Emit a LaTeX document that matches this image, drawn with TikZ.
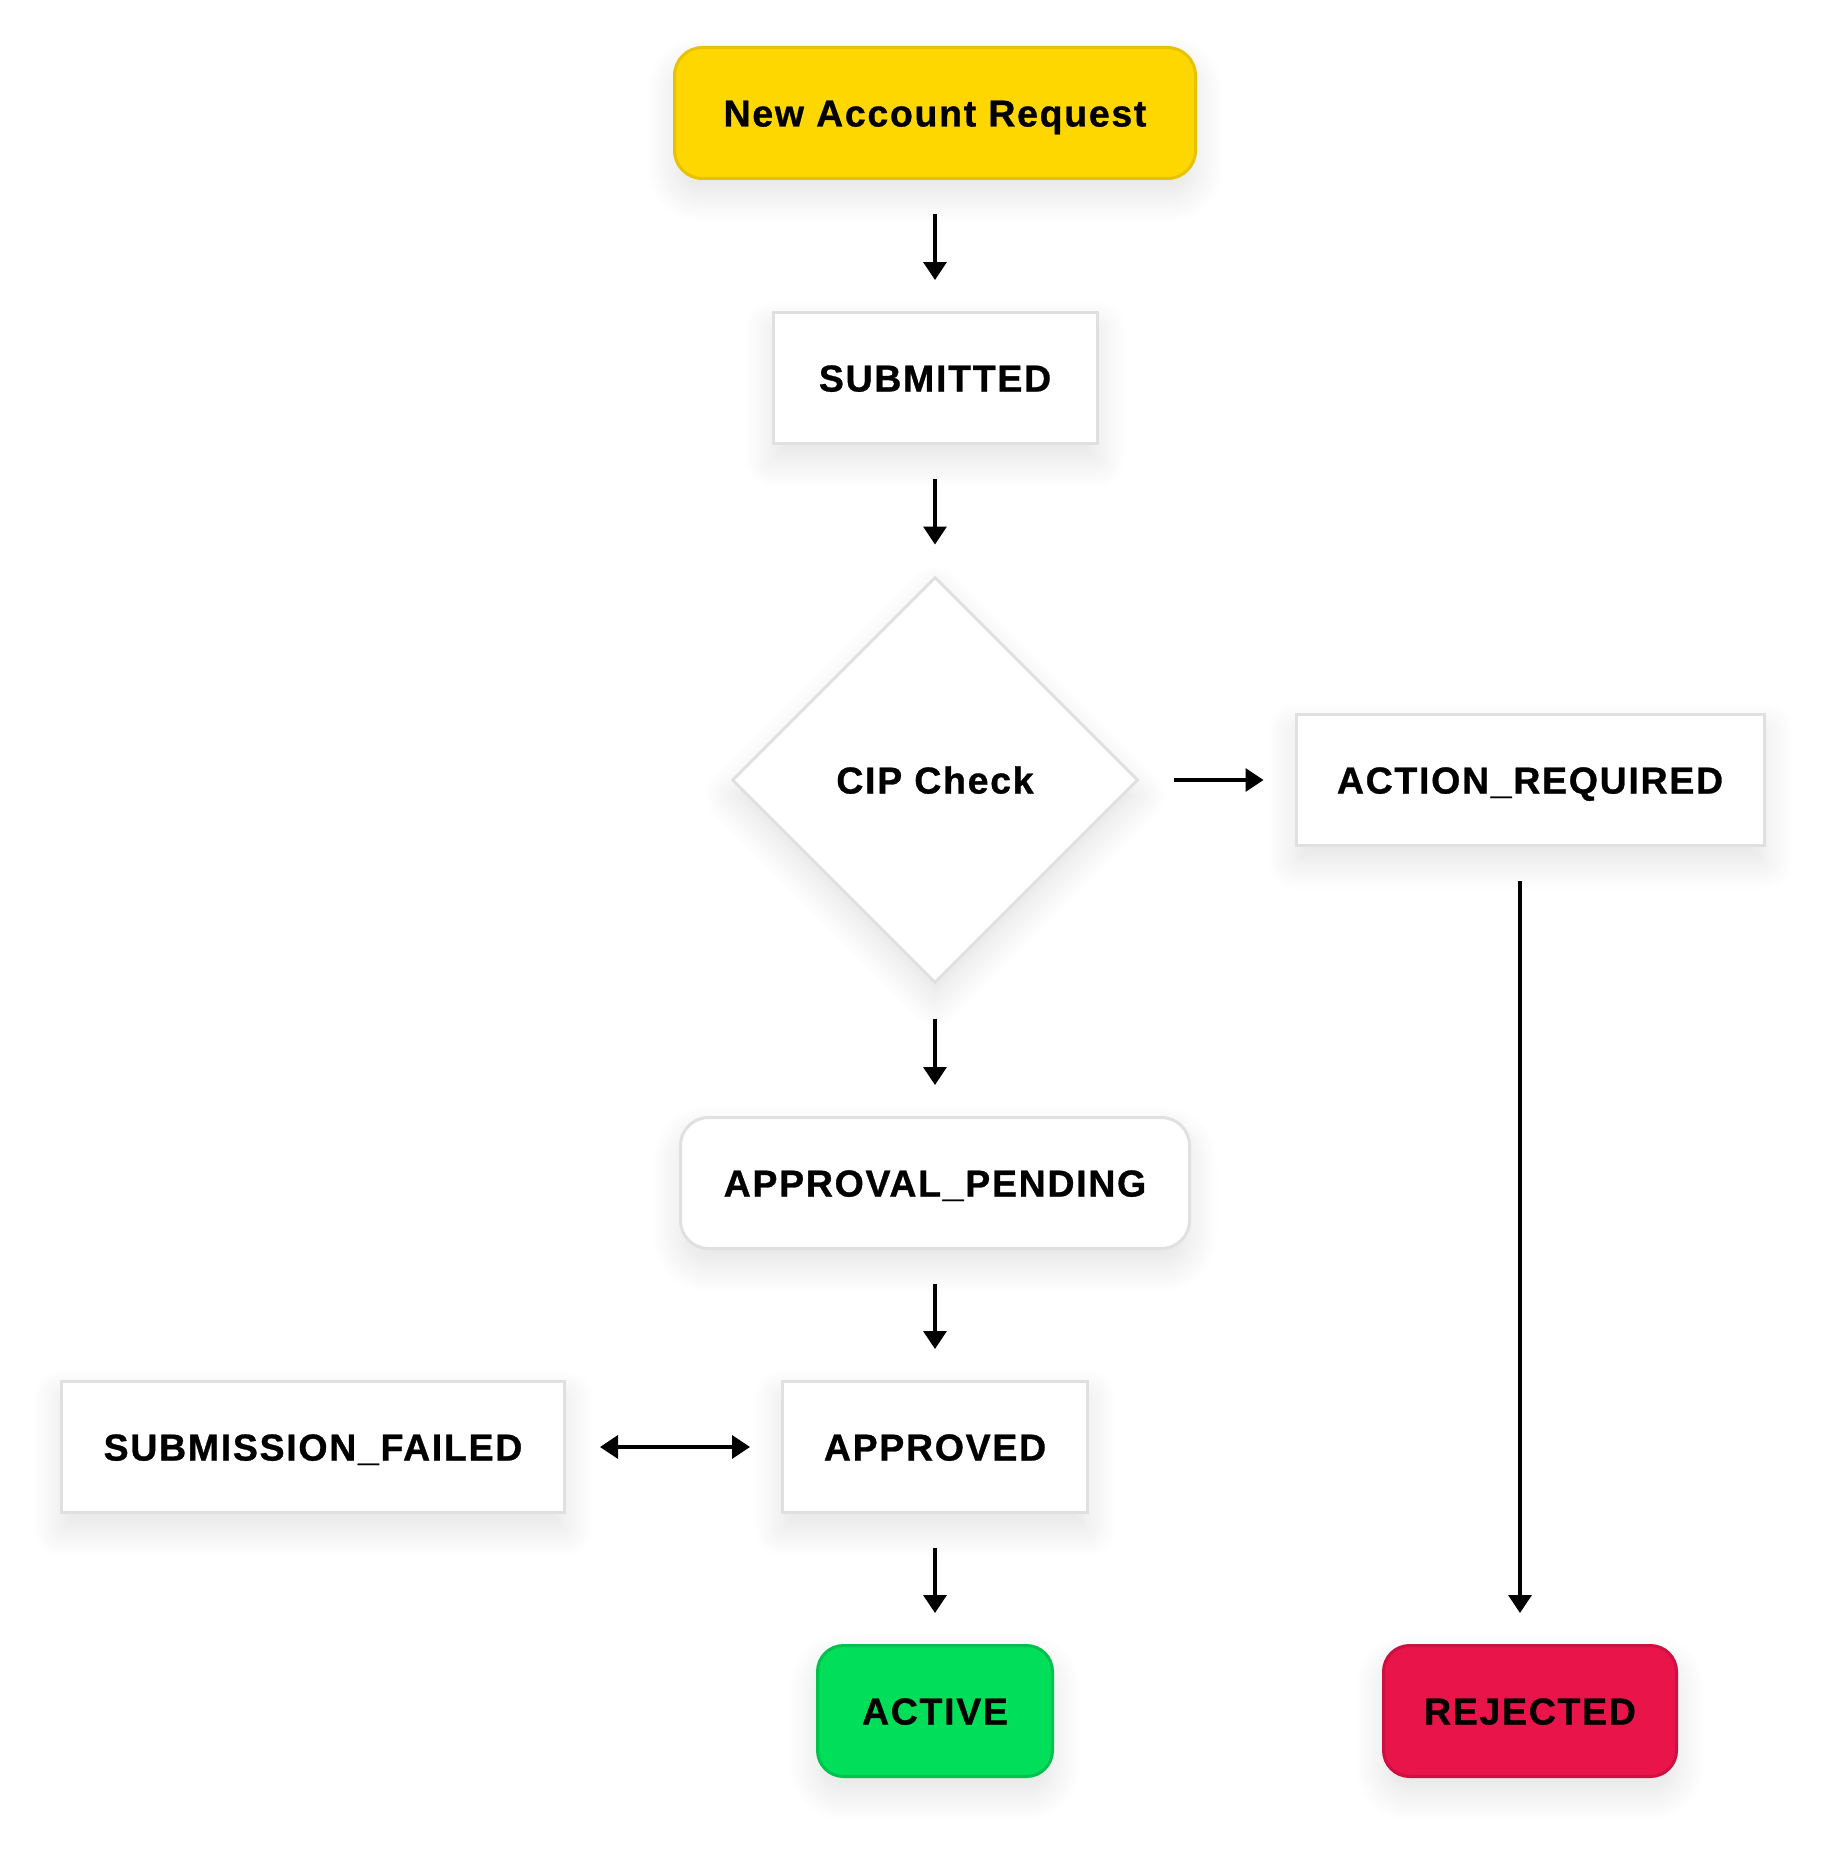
\documentclass[tikz,border=0pt]{standalone}
\usepackage{fontspec}
\setmainfont[LetterSpace=4.5,BoldFeatures={FakeBold=0.8}]{Liberation Sans}
\usetikzlibrary{arrows.meta,positioning,shapes.geometric,shadows.blur}
\definecolor{startyellow}{HTML}{FFD700}
\definecolor{startedge}{HTML}{E6C200}
\definecolor{okgreen}{HTML}{00DE5A}
\definecolor{okedge}{HTML}{00C04E}
\definecolor{failred}{HTML}{E8144A}
\definecolor{failedge}{HTML}{CC1040}
\definecolor{boxgray}{HTML}{E0E0E0}

\begin{document}
\begin{tikzpicture}[x=1pt,y=-1pt,>={Triangle[length=18pt,width=23pt]},
    every node/.style={font=\fontsize{37.5}{42}\selectfont\bfseries,
        text height=27pt, text depth=0pt, inner sep=0pt},
    soft/.style={blur shadow={shadow xshift=0pt, shadow yshift=-16pt,
        shadow blur radius=28pt, shadow blur steps=14, shadow opacity=11}},
    state/.style={soft, draw=boxgray, line width=3pt, fill=white,
        minimum height=131pt},
    roundstate/.style={state, rounded corners=28pt},
    decision/.style={soft, diamond, aspect=1, draw=boxgray, line width=3pt,
        fill=white, minimum width=406pt, minimum height=406pt},
    flow/.style={->, line width=3.5pt, shorten <=34pt, shorten >=31pt}]
    \useasboundingbox (0,0) rectangle (1825,1854);

    % Main path
    \node[roundstate, fill=startyellow, draw=startedge, minimum width=521pt]
        (request) at (935,113) {New Account Request};
    \node[state, minimum width=324pt] (submitted) at (935,378) {SUBMITTED};
    \node[decision] (cip) at (935,780) {CIP Check};
    \node[roundstate, minimum width=509pt] (pending) at (935,1183) {APPROVAL\_PENDING};
    \node[state, minimum width=305pt] (approved) at (935,1447) {APPROVED};
    \node[roundstate, fill=okgreen, draw=okedge, minimum width=235pt, rounded corners=26pt]
        (active) at (935,1711) {ACTIVE};

    % Side states
    \node[state, minimum width=468pt] (action) at (1530,780) {ACTION\_REQUIRED};
    \node[state, minimum width=503pt] (failed) at (313,1447) {SUBMISSION\_FAILED};
    \node[roundstate, fill=failred, draw=failedge, minimum width=293pt, rounded corners=26pt]
        (rejected) at (1530,1711) {REJECTED};

    % Transitions
    \draw[flow] (request) -- (submitted);
    \draw[flow] (submitted) -- (cip);
    \draw[flow] (cip) -- (action);
    \draw[flow] (cip) -- (pending);
    \draw[flow] (pending) -- (approved);
    \draw[flow] (approved) -- (active);
    \draw[flow, <->] (failed) -- (approved);
    \draw[flow] ([xshift=-10pt]action.south) -- ([xshift=-10pt]rejected.north);
\end{tikzpicture}
\end{document}
